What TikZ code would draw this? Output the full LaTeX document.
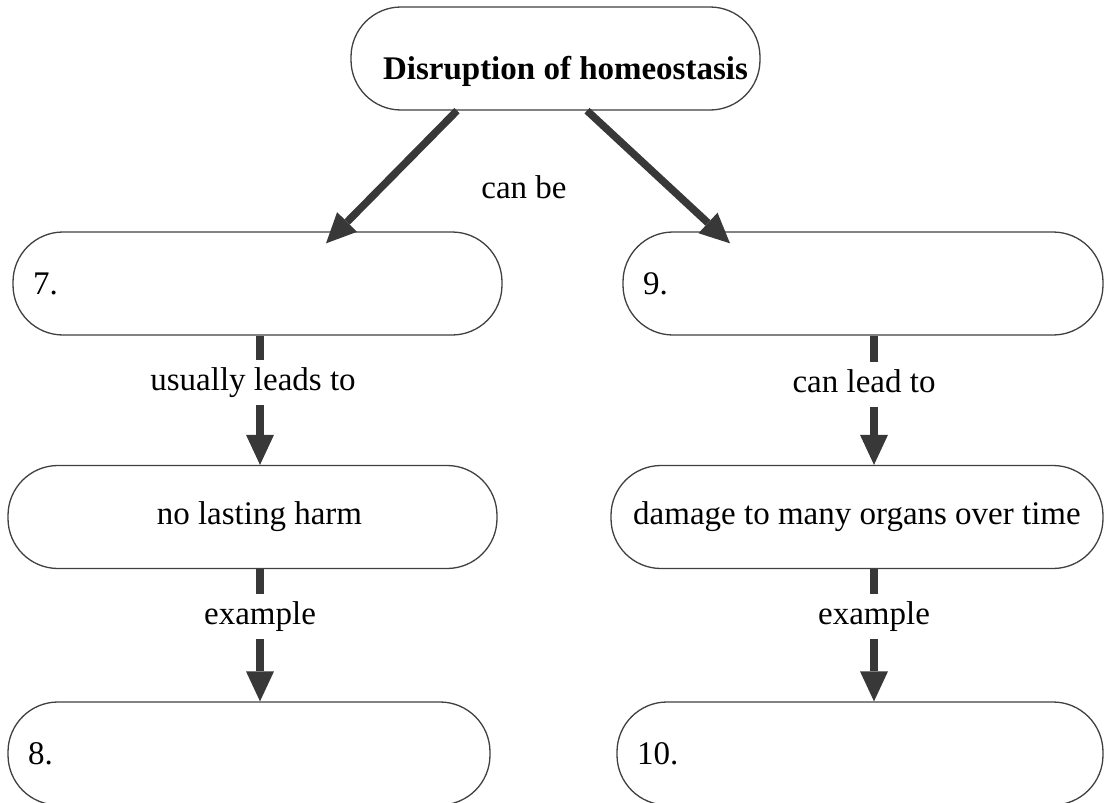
\documentclass[tikz,border=0pt]{standalone}
\usepackage{fontspec}
\setmainfont{Liberation Serif}
\usetikzlibrary{arrows.meta,positioning,calc}
\definecolor{arrowgray}{HTML}{383838}
\definecolor{linegray}{HTML}{404040}

\tikzset{
  box/.style={draw=linegray, line width=1.3pt, rounded corners=50pt,
    minimum height=103pt, inner sep=0pt, fill=white},
  numbox/.style={box, inner xsep=20pt, align=left},
  arr/.style={draw=arrowgray, line width=7.5pt,
    -{Triangle[length=30pt,width=28pt,line width=0pt]}},
  lbl/.style={fill=white, inner xsep=2pt, inner ysep=7.5pt,
    text height=23pt, text depth=7pt}
}

\begin{document}
\begin{tikzpicture}[x=1pt,y=-1pt,font=\fontsize{33}{40}\selectfont]
\useasboundingbox (0,0) rectangle (1104,803);

\node[box, minimum width=409pt, text height=42pt, text depth=0pt, font=\fontsize{33}{40}\selectfont\bfseries] (disrupt) at (555.5,58.5) {\hspace*{20pt}Disruption of homeostasis};
\node[numbox, text width=449pt] (seven) at (257.5,283.5) {7.};
\node[numbox, text width=440pt] (nine) at (863,283.5) {9.};
\node[box, minimum width=489pt] (harm) at (252.5,517) {\hspace*{14pt}no lasting harm};
\node[box, minimum width=492pt] (damage) at (857,517) {damage to many organs over time};
\node[numbox, text width=442pt] (eight) at (249,753.5) {8.};
\node[numbox, text width=446pt] (ten) at (860,753.5) {10.};

\node (canbe) at (524,187) {can be}; %label

% top level
\draw[arr] ([xshift=-98.5pt]disrupt.south) -- ([xshift=68.5pt,yshift=-12pt]seven.north);
\draw[arr] ([xshift=31.5pt]disrupt.south) -- ([xshift=-133pt,yshift=-12pt]nine.north);

% left column
\draw[arr] ([xshift=2.5pt]seven.south) -- node[lbl, pos=.36, xshift=-7pt] (usual) {usually leads to} ([xshift=7.5pt]harm.north);
\draw[arr] ([xshift=7.5pt]harm.south) -- node[lbl, pos=.36] (exleft) {example} ([xshift=11pt]eight.north);

% right column
\draw[arr] ([xshift=11pt]nine.south) -- node[lbl, pos=.38, xshift=-10pt] (canlead) {can lead to} ([xshift=17pt]damage.north);
\draw[arr] ([xshift=17pt]damage.south) -- node[lbl, pos=.36] (exright) {example} ([xshift=14pt]ten.north);
\end{tikzpicture}
\end{document}
